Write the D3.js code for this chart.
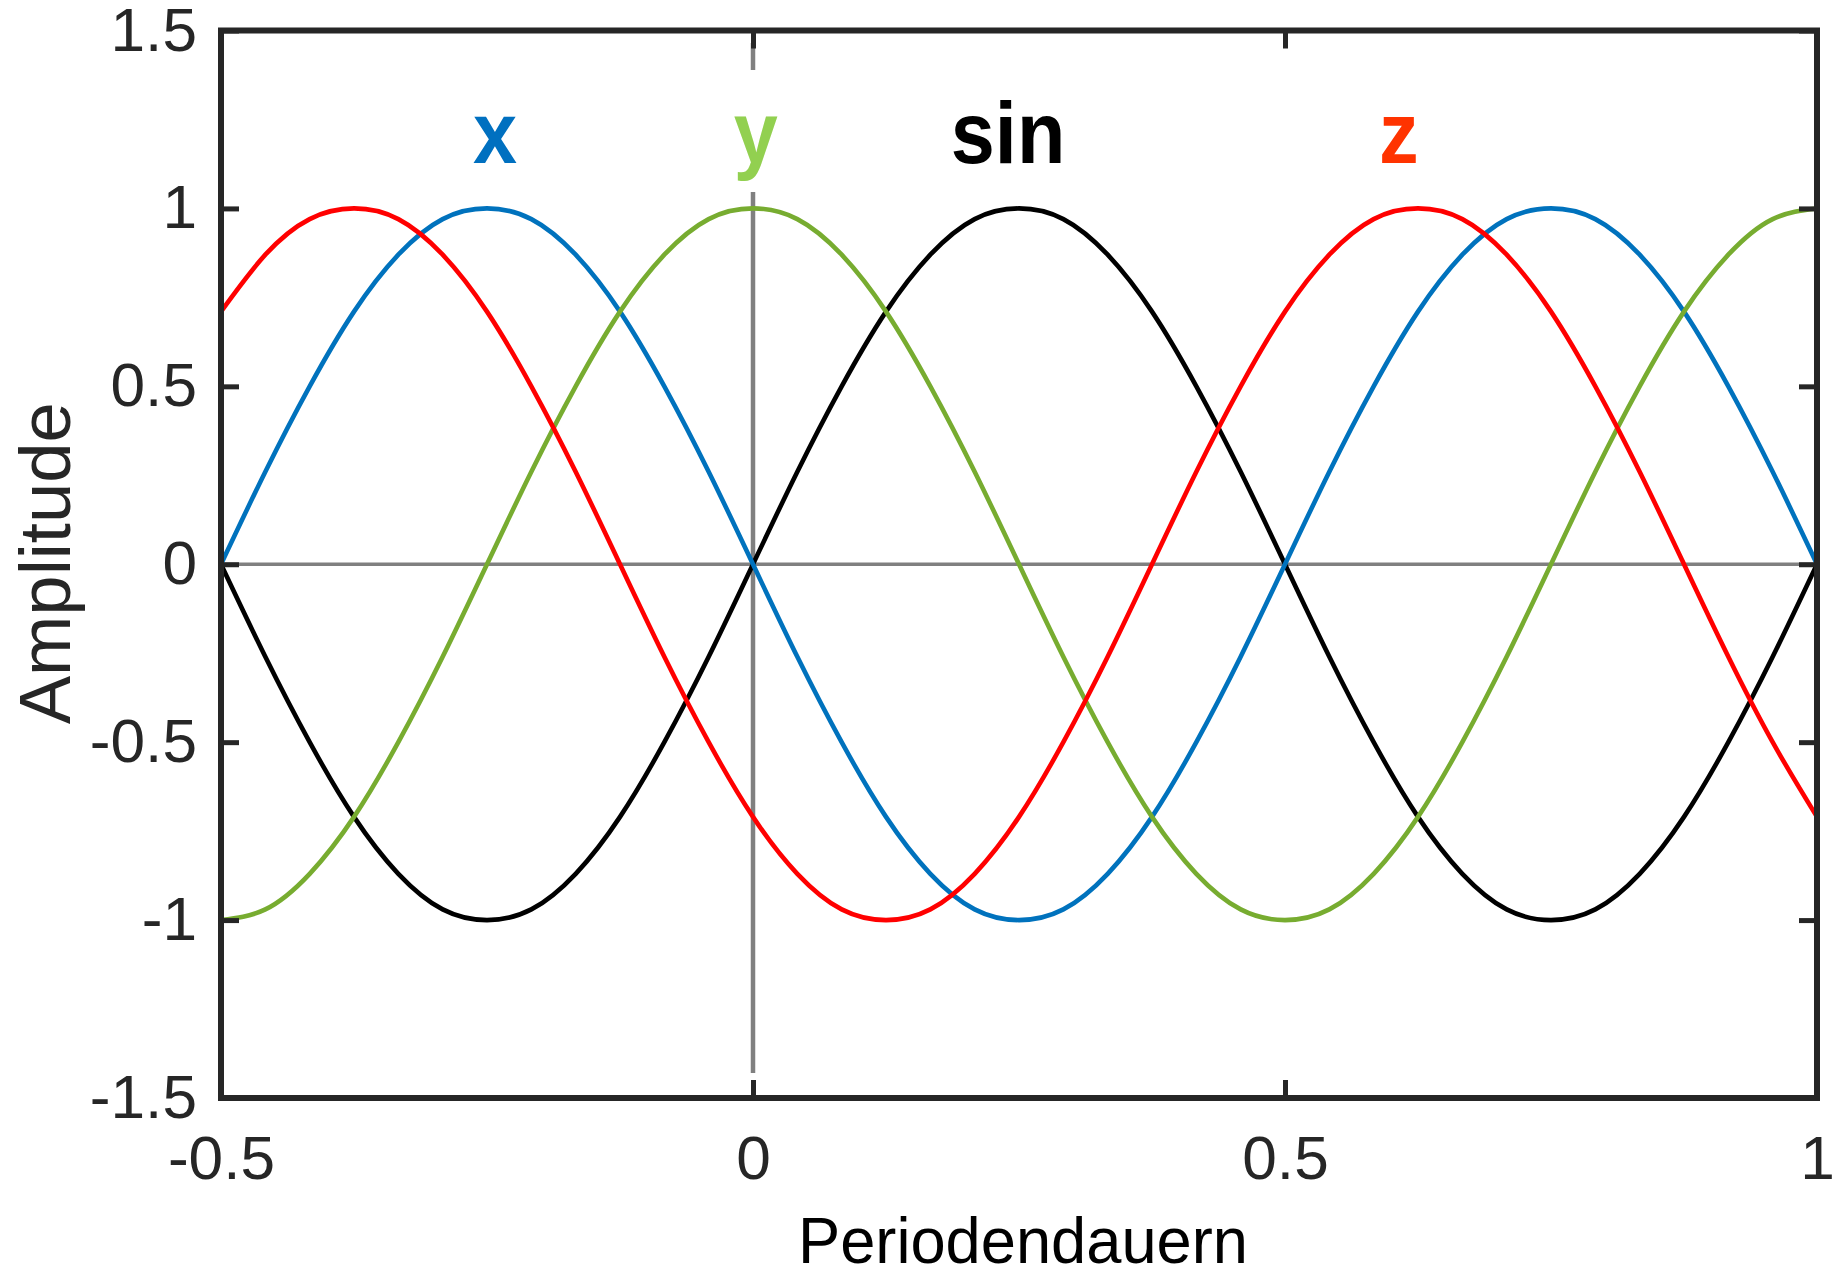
<!DOCTYPE html>
<html>
<head>
<meta charset="utf-8">
<script src="https://cdn.jsdelivr.net/npm/d3@7/dist/d3.min.js"></script>
<style>
  html, body { margin: 0; padding: 0; background: #fff; }
  svg { display: block; }
  text { font-family: "Liberation Sans", Arial, Helvetica, sans-serif; }
</style>
</head>
<body>
<svg id="chart" width="1836" height="1271"></svg>
<script>
// Phase axis in periods, sampled every 1/24 period
const periodStart = -0.5;
const periodStep = 1 / 24;

// Sampled amplitudes of the four waveforms
const sinValues = [0, -0.26, -0.5, -0.71, -0.87, -0.97, -1, -0.97, -0.87, -0.71, -0.5, -0.26,
  0, 0.26, 0.5, 0.71, 0.87, 0.97, 1, 0.97, 0.87, 0.71, 0.5, 0.26,
  0, -0.26, -0.5, -0.71, -0.87, -0.97, -1, -0.97, -0.87, -0.71, -0.5, -0.26, 0];
const xValues = [0, 0.26, 0.5, 0.71, 0.87, 0.97, 1, 0.97, 0.87, 0.71, 0.5, 0.26,
  0, -0.26, -0.5, -0.71, -0.87, -0.97, -1, -0.97, -0.87, -0.71, -0.5, -0.26,
  0, 0.26, 0.5, 0.71, 0.87, 0.97, 1, 0.97, 0.87, 0.71, 0.5, 0.26, 0];
const yValues = [-1, -0.97, -0.87, -0.71, -0.5, -0.26, 0, 0.26, 0.5, 0.71, 0.87, 0.97,
  1, 0.97, 0.87, 0.71, 0.5, 0.26, 0, -0.26, -0.5, -0.71, -0.87, -0.97,
  -1, -0.97, -0.87, -0.71, -0.5, -0.26, 0, 0.26, 0.5, 0.71, 0.87, 0.97, 1];
const zValues = [0.71, 0.87, 0.97, 1, 0.97, 0.87, 0.71, 0.5, 0.26, 0, -0.26, -0.5,
  -0.71, -0.87, -0.97, -1, -0.97, -0.87, -0.71, -0.5, -0.26, 0, 0.26, 0.5,
  0.71, 0.87, 0.97, 1, 0.97, 0.87, 0.71, 0.5, 0.26, 0, -0.26, -0.5, -0.71];

// Axis ticks
const xTicks = [-0.5, 0, 0.5, 1];
const yTicks = [-1.5, -1, -0.5, 0, 0.5, 1, 1.5];
const xTickLabels = ["-0.5", "0", "0.5", "1"];
const yTickLabels = ["-1.5", "-1", "-0.5", "0", "0.5", "1", "1.5"];

// Vertical reference line at phase 0
const refLineX = 0;
const refLineSpan = [-1.43, 1.465];

// Curve labels: name, phase position, colour
const labelNames = ["x", "y", "sin", "z"];
const labelPhases = [-0.2425, 0.0025, 0.2397, 0.607];
const labelColors = ["#0070C0", "#92D050", "#000000", "#FF3300"];

const series = [
  { name: "sin", values: sinValues, color: "#000000" },
  { name: "x", values: xValues, color: "#0072BD" },
  { name: "y", values: yValues, color: "#77AC30" },
  { name: "z", values: zValues, color: "#FF0000" }
];

const width = 1836, height = 1271;
const margin = { top: 30.5, right: 19, bottom: 173, left: 221 };
const innerW = width - margin.left - margin.right;
const innerH = height - margin.top - margin.bottom;

const svg = d3.select("#chart");
const g = svg.append("g").attr("transform", `translate(${margin.left},${margin.top})`);

const x = d3.scaleLinear().domain([-0.5, 1]).range([0, innerW]);
const y = d3.scaleLinear().domain([-1.5, 1.5]).range([innerH, 0]);

const axisColor = "#262626";
const tickFont = 61;
const widen = 1.02;

// Gray zero line and phase-0 line
g.append("line")
  .attr("x1", x(-0.5)).attr("x2", x(1))
  .attr("y1", y(0)).attr("y2", y(0))
  .attr("stroke", "#808080").attr("stroke-width", 3.5);
g.append("line")
  .attr("x1", x(refLineX)).attr("x2", x(refLineX))
  .attr("y1", y(refLineSpan[0])).attr("y2", y(refLineSpan[1]))
  .attr("stroke", "#808080").attr("stroke-width", 4.5);

// Waveforms
const line = d3.line()
  .x((d, i) => x(periodStart + i * periodStep))
  .y(d => y(d))
  .curve(d3.curveNatural);

g.selectAll("path.wave")
  .data(series)
  .join("path")
  .attr("class", "wave")
  .attr("d", d => line(d.values))
  .attr("fill", "none")
  .attr("stroke", d => d.color)
  .attr("stroke-width", 4.6)
  .attr("stroke-linejoin", "round");

// Axes with inward ticks on all four sides
const tickLen = 18;
function styleAxis(sel) {
  sel.select(".domain").remove();
  sel.selectAll(".tick line").attr("stroke", axisColor).attr("stroke-width", 5);
  sel.selectAll(".tick text")
    .attr("fill", axisColor)
    .attr("font-size", tickFont)
    .attr("font-family", "'Liberation Sans', Arial, sans-serif");
}

const gx = g.append("g").attr("transform", `translate(0,${innerH})`)
  .call(d3.axisBottom(x).tickValues(xTicks).tickSize(-tickLen).tickPadding(38)
    .tickFormat((d, i) => xTickLabels[i]));
styleAxis(gx);

const gy = g.append("g")
  .call(d3.axisLeft(y).tickValues(yTicks).tickSize(-tickLen).tickPadding(24)
    .tickFormat((d, i) => yTickLabels[i]));
styleAxis(gy);

const gxTop = g.append("g")
  .call(d3.axisTop(x).tickValues(xTicks).tickSize(-tickLen).tickFormat(""));
styleAxis(gxTop);

const gyRight = g.append("g").attr("transform", `translate(${innerW},0)`)
  .call(d3.axisRight(y).tickValues(yTicks).tickSize(-tickLen).tickFormat(""));
styleAxis(gyRight);

// Slightly wider tick label glyphs
[gx, gy].forEach(a => a.selectAll(".tick text").each(function () {
  const len = this.getComputedTextLength();
  d3.select(this).attr("textLength", len * widen).attr("lengthAdjust", "spacingAndGlyphs");
}));

// Box frame
g.append("rect")
  .attr("x", 0).attr("y", 0)
  .attr("width", innerW).attr("height", innerH)
  .attr("fill", "none")
  .attr("stroke", axisColor).attr("stroke-width", 6);

// Axis titles
svg.append("text")
  .attr("x", 1023)
  .attr("y", 1263)
  .attr("text-anchor", "middle")
  .attr("font-size", 65)
  .attr("fill", "#000")
  .attr("textLength", 450)
  .attr("lengthAdjust", "spacingAndGlyphs")
  .text("Periodendauern");

svg.append("text")
  .attr("transform", `translate(70,${margin.top + y(0) - 1}) rotate(-90)`)
  .attr("text-anchor", "middle")
  .attr("font-size", 73)
  .attr("fill", "#262626")
  .attr("textLength", 322)
  .attr("lengthAdjust", "spacingAndGlyphs")
  .text("Amplitude");

// Curve name labels above the plot
const labelBaseline = 163 - margin.top;
const labels = g.selectAll("g.curve-label")
  .data(labelNames.map((n, i) => ({ name: n, phase: labelPhases[i], color: labelColors[i] })))
  .join("g")
  .attr("class", "curve-label")
  .attr("transform", d => `translate(${x(d.phase)},${labelBaseline})`);

labels.filter(d => d.name === "y")
  .append("rect")
  .attr("x", -22).attr("y", 70 - 163).attr("width", 44).attr("height", 122)
  .attr("fill", "#fff");

labels.append("text")
  .attr("text-anchor", "middle")
  .attr("font-size", 88)
  .attr("font-weight", "bold")
  .attr("fill", d => d.color)
  .attr("transform", "scale(0.9,1)")
  .text(d => d.name);
</script>
</body>
</html>
